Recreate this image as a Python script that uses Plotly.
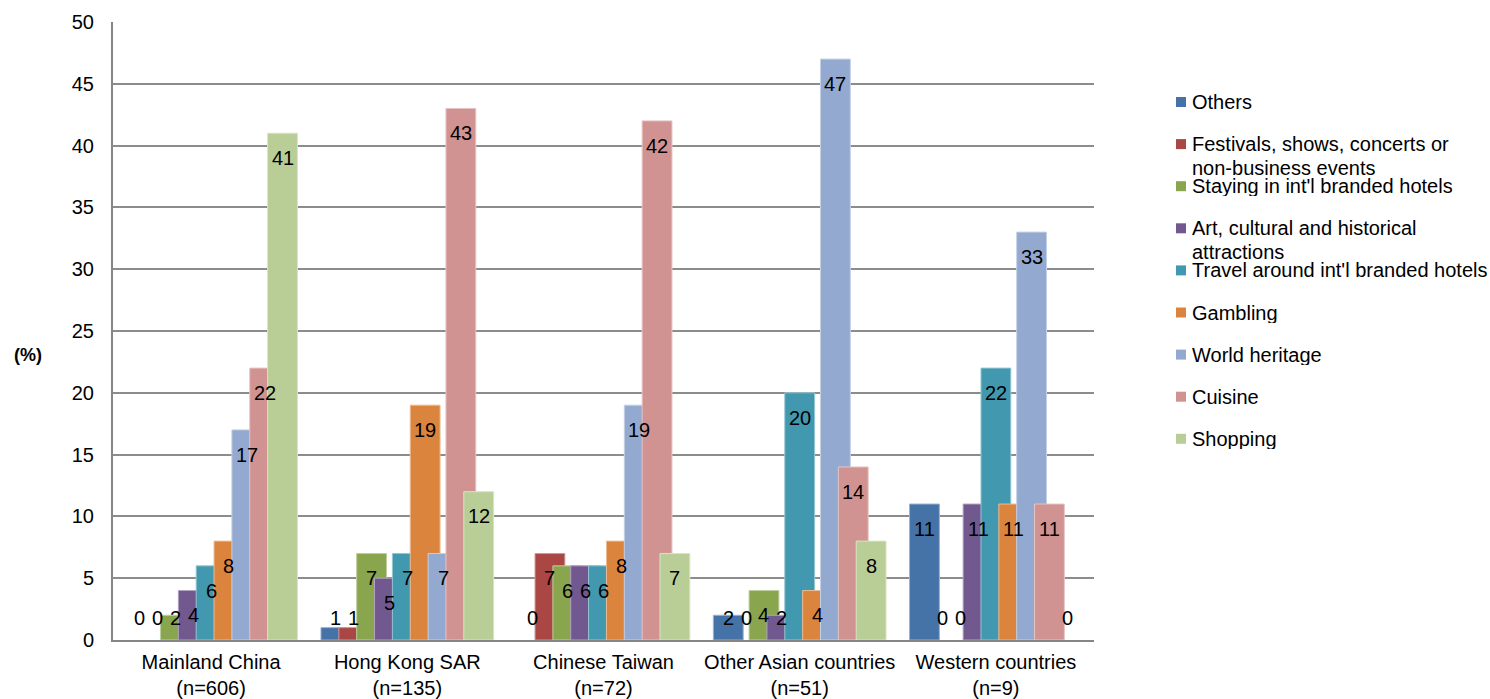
import plotly.graph_objects as go

# Visitor groups (x-axis categories)
categories = [
    "Mainland China<br>(n=606)",
    "Hong Kong SAR<br>(n=135)",
    "Chinese Taiwan<br>(n=72)",
    "Other Asian countries<br>(n=51)",
    "Western countries<br>(n=9)",
]

# Share of respondents (%) per attraction type, one list per series
others = [0, 1, 0, 2, 11]
festivals = [0, 1, 7, 0, 0]
staying_hotels = [2, 7, 6, 4, 0]
art_culture = [4, 5, 6, 2, 11]
travel_hotels = [6, 7, 6, 20, 22]
gambling = [8, 19, 8, 4, 11]
world_heritage = [17, 7, 19, 47, 33]
cuisine = [22, 43, 42, 14, 11]
shopping = [41, 12, 7, 8, 0]

# legend labels, one list entry per wrapped line
series_names = [
    ["Others"],
    ["Festivals, shows, concerts or", "non-business events"],
    ["Staying in int'l branded hotels"],
    ["Art, cultural and historical", "attractions"],
    ["Travel around int'l branded hotels"],
    ["Gambling"],
    ["World heritage"],
    ["Cuisine"],
    ["Shopping"],
]
series_values = [others, festivals, staying_hotels, art_culture, travel_hotels,
                 gambling, world_heritage, cuisine, shopping]
colors = ["#4572A7", "#AA4643", "#89A54E", "#71588F", "#4198AF",
          "#DB843D", "#93A9CF", "#D19392", "#B9CD96"]

FONT = "Liberation Sans, Arial, Helvetica, sans-serif"
FS = 20

W, H = 1490, 699
ML, MR, MT, MB = 113, 396, 22, 59
PW, PH = W - ML - MR, H - MT - MB


def lighten(hex_color, f=0.45):
    r, g, b = (int(hex_color[i:i + 2], 16) for i in (1, 3, 5))
    r, g, b = (round(c + (255 - c) * f) for c in (r, g, b))
    return f"rgb({r},{g},{b})"


def px_to_paper(px, py):
    return (px - ML) / PW, (H - MB - py) / PH


# overlapping clustered bars: each series shifted by a fixed step
n = len(series_values)
bar_w = 0.152
step = 0.091
start = -(step * (n - 1) + bar_w) / 2
xs = list(range(len(categories)))

fig = go.Figure()
annotations = []
for i, (lines, vals, col) in enumerate(zip(series_names, series_values, colors)):
    off = start + i * step
    fig.add_trace(go.Bar(
        x=xs, y=vals, name=" ".join(lines),
        offset=off, width=bar_w,
        marker=dict(color=col,
                    line=dict(color=lighten(col),
                              width=[1 if v > 0 else 0 for v in vals])),
        showlegend=False,
    ))
    for xi, v in zip(xs, vals):
        annotations.append(dict(
            x=xi + off + bar_w / 2, y=max(v - 2.0, 1.8),
            xref="x", yref="y", text=str(v), showarrow=False,
            font=dict(family=FONT, size=FS, color="#000000"),
            xanchor="center", yanchor="middle",
        ))

# legend drawn at fixed row spacing on the right
leg_x_px, leg_y0_px, leg_dy, line_dy = 1176, 102, 42.1, 24
shapes = []
for i, (lines, col) in enumerate(zip(series_names, colors)):
    cy = leg_y0_px + i * leg_dy
    x0, y0 = px_to_paper(leg_x_px, cy + 5)
    x1, y1 = px_to_paper(leg_x_px + 10, cy - 5)
    shapes.append(dict(
        type="rect", xref="paper", yref="paper",
        x0=x0, x1=x1, y0=y0, y1=y1,
        fillcolor=col, line=dict(width=0),
    ))
    for k, line in enumerate(lines):
        tx, ty = px_to_paper(leg_x_px + 15, cy + k * line_dy)
        annotations.append(dict(
            x=tx, y=ty, xref="paper", yref="paper", text=line,
            showarrow=False, height=20,
            font=dict(family=FONT, size=FS, color="#000000"),
            xanchor="left", yanchor="middle", align="left", borderpad=0,
        ))

px, py = px_to_paper(28, 355)
annotations.append(dict(
    x=px, y=py, xref="paper", yref="paper",
    text="<b>(%)</b>", showarrow=False,
    font=dict(family=FONT, size=FS - 2, color="#000000"),
    xanchor="center", yanchor="middle",
))

fig.update_layout(
    width=W, height=H,
    margin=dict(l=ML, r=MR, t=MT, b=MB, autoexpand=False),
    paper_bgcolor="white", plot_bgcolor="white",
    barmode="overlay",
    font=dict(family=FONT, size=FS, color="#000000"),
    annotations=annotations, shapes=shapes,
    xaxis=dict(
        range=[-0.5, len(categories) - 0.5],
        tickvals=xs, ticktext=categories,
        showgrid=False, zeroline=False,
        showline=True, linecolor="#868686", linewidth=2,
        ticks="", ticklabelstandoff=3,
        tickfont=dict(family=FONT, size=FS, color="#000000"),
        fixedrange=True,
    ),
    yaxis=dict(
        range=[0, 50], dtick=5, tick0=0,
        showgrid=True, gridcolor="#8c8c8c", gridwidth=1.5,
        zeroline=False,
        showline=True, linecolor="#868686", linewidth=2,
        ticks="", ticklabelstandoff=13,
        tickfont=dict(family=FONT, size=FS, color="#000000"),
        fixedrange=True,
    ),
)

fig.write_html("out.html")
